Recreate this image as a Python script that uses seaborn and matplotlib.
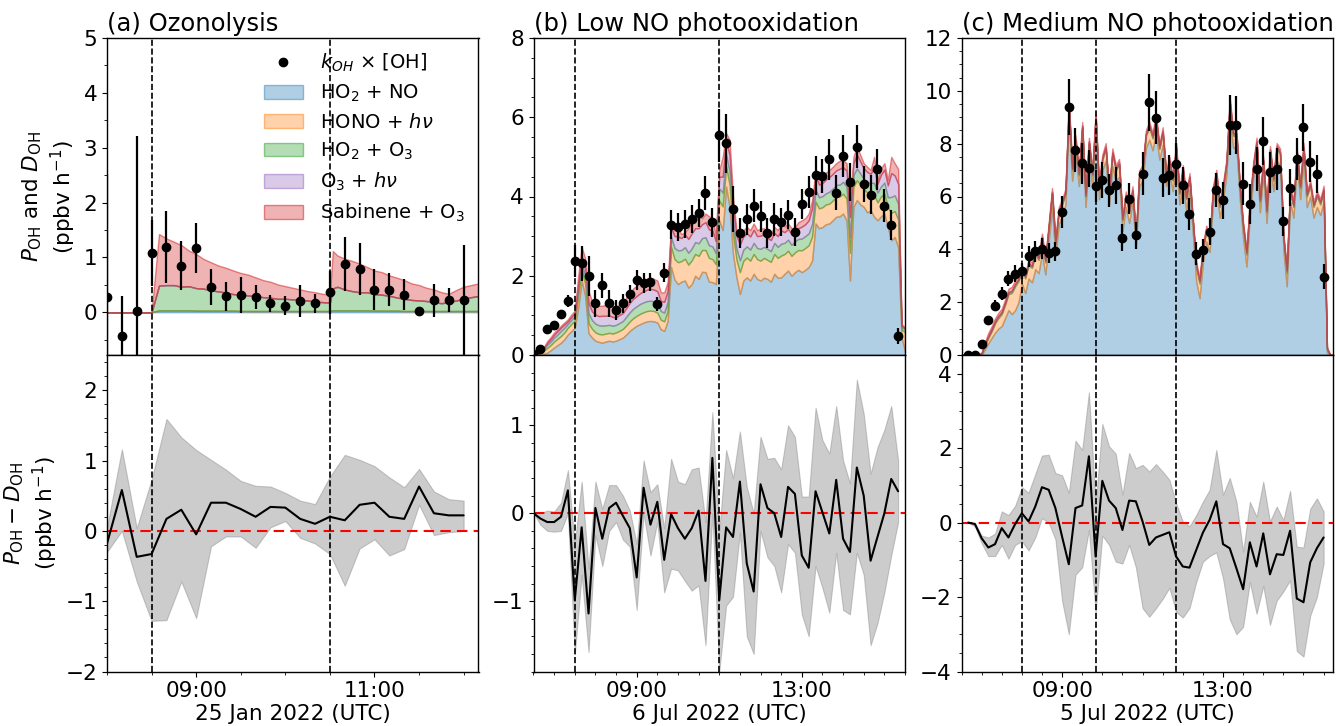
import numpy as np
import pandas as pd
import matplotlib
matplotlib.use("Agg")
import matplotlib.pyplot as plt
import matplotlib.dates as mdates
from matplotlib.colors import to_rgba
from matplotlib.lines import Line2D
from matplotlib.ticker import MultipleLocator
import seaborn as sns

# ------------------------------------------------------------------ data
layer_labels = ["HO$_2$ + NO", "HONO + $h\\nu$", "HO$_2$ + O$_3$", "O$_3$ + $h\\nu$", "Sabinene + O$_3$"]
layer_colors = ["tab:blue", "tab:orange", "tab:green", "tab:purple", "tab:red"]

# ---- (a) Ozonolysis, 25 Jan 2022
obs_a_start = "2022-01-25 08:00"
koh_a = [0.27, -0.44, 0.03, 1.08, 1.19, 0.85, 1.17, 0.46, 0.29, 0.32, 0.27, 0.16, 0.12,
         0.21, 0.16, 0.36, 0.88, 0.79, 0.41, 0.41, 0.32, 0.02, 0.22, 0.22, 0.22]
koh_a_err = [2.25, 0.74, 3.19, 0.6, 0.66, 0.44, 0.45, 0.33, 0.27, 0.33, 0.22, 0.15, 0.17,
             0.29, 0.18, 0.4, 0.49, 0.47, 0.37, 0.3, 0.28, 0.02, 0.3, 0.22, 1.0]
diff_a = [-0.18, 0.58, -0.37, -0.33, 0.17, 0.30, -0.05, 0.40, 0.40, 0.31, 0.20, 0.34, 0.33,
          0.17, 0.10, 0.20, 0.15, 0.37, 0.40, 0.20, 0.17, 0.63, 0.25, 0.22, 0.22]
diff_a_hi = [0.05, 1.16, 0.04, 0.73, 1.59, 1.33, 1.15, 1.01, 0.87, 0.71, 0.64, 0.63, 0.54,
             0.43, 0.38, 0.77, 1.08, 1.01, 0.92, 0.76, 0.62, 0.88, 0.56, 0.45, 0.43]
diff_a_lo = [-0.3, 0.0, -0.72, -1.28, -1.27, -0.72, -1.24, -0.22, -0.08, -0.08, -0.24, 0.05, 0.14,
             -0.1, -0.18, -0.33, -0.78, -0.25, -0.12, -0.35, -0.26, 0.37, -0.06, -0.02, 0.0]
model_a_times = ["08:00", "08:30", "08:35", "08:40", "08:45", "08:50", "08:55", "09:00", "09:05",
                 "09:10", "09:15", "09:20", "09:25", "09:30", "09:35", "09:40", "09:45", "09:50",
                 "09:55", "10:00", "10:05", "10:10", "10:15", "10:20", "10:25", "10:30", "10:32",
                 "10:35", "10:40", "10:45", "10:50", "10:55", "11:00", "11:05", "11:10", "11:15",
                 "11:20", "11:25", "11:30", "11:35", "11:40", "11:45", "11:50", "11:55", "12:00",
                 "12:05", "12:10"]
no_a = [0, 0, 0.03, 0.03, 0.03, 0.03, 0.03, 0.025, 0.025, 0.025, 0.025, 0.025, 0.025,
        0.02, 0.02, 0.02, 0.02, 0.02, 0.02, 0.02, 0.02, 0.02, 0.02, 0.02, 0.02, 0.02,
        0.03, 0.03, 0.03, 0.03, 0.03, 0.03, 0.025, 0.025, 0.025, 0.025,
        0.02, 0.02, 0.02, 0.02, 0.02, 0.02, 0.02, 0.02, 0.02, 0.02, 0.02]
hono_a = [0, 0, 0.003, 0.003, 0.003, 0.003, 0.003, 0.003, 0.003, 0.003, 0.003, 0.003, 0.003,
          0.003, 0.003, 0.003, 0.003, 0.003, 0.003, 0.003, 0.003, 0.003, 0.003, 0.003, 0.003,
          0.003, 0.003, 0.003, 0.003, 0.003, 0.003, 0.003, 0.003, 0.003, 0.003, 0.003, 0.003,
          0.003, 0.003, 0.003, 0.003, 0.003, 0.003, 0.003, 0.003, 0.003, 0.003]
ho2o3_a = [0, 0, 0.45, 0.46, 0.46, 0.43, 0.44, 0.41, 0.40, 0.37, 0.35, 0.33, 0.30, 0.30, 0.28,
           0.27, 0.25, 0.24, 0.22, 0.22, 0.21, 0.20, 0.19, 0.17, 0.16, 0.15, 0.40, 0.43, 0.38,
           0.35, 0.33, 0.33, 0.30, 0.29, 0.27, 0.24, 0.22, 0.20, 0.19, 0.18, 0.16, 0.14, 0.16,
           0.19, 0.22, 0.25, 0.27]
o3hv_a = [0, 0, 0.002, 0.002, 0.002, 0.002, 0.002, 0.002, 0.002, 0.002, 0.002, 0.002, 0.002,
          0.002, 0.002, 0.002, 0.002, 0.002, 0.002, 0.002, 0.002, 0.002, 0.002, 0.002, 0.002,
          0.002, 0.002, 0.002, 0.002, 0.002, 0.002, 0.002, 0.002, 0.002, 0.002, 0.002, 0.002,
          0.002, 0.002, 0.002, 0.002, 0.002, 0.002, 0.002, 0.002, 0.002, 0.002]
sab_a = [0, 0, 0.94, 0.85, 0.79, 0.76, 0.65, 0.62, 0.54, 0.51, 0.47, 0.45, 0.43, 0.39, 0.38,
         0.34, 0.31, 0.29, 0.26, 0.23, 0.21, 0.19, 0.17, 0.17, 0.15, 0.15, 0.68, 0.57, 0.56,
         0.55, 0.52, 0.46, 0.43, 0.41, 0.37, 0.36, 0.34, 0.30, 0.28, 0.24, 0.23, 0.20, 0.15,
         0.19, 0.22, 0.22, 0.23]

# ---- (b) Low NO photooxidation, 6 Jul 2022
obs_b_start = "2022-07-06 06:30"
koh_b = [0.02, 0.15, 0.66, 0.75, 1.03, 1.36, 2.38, 2.31, 1.99, 1.30,
         1.76, 1.31, 1.13, 1.30, 1.53, 1.89, 1.81, 1.85, 1.28, 2.08,
         3.29, 3.23, 3.31, 3.43, 3.58, 4.09, 3.35, 5.55, 5.34, 3.69,
         3.08, 3.42, 3.77, 3.50, 3.08, 3.42, 3.36, 3.54, 3.10, 3.80,
         4.11, 4.53, 4.52, 4.94, 4.09, 5.01, 4.36, 5.26, 4.31, 4.05,
         4.69, 3.77, 3.27, 0.47]
koh_b_err = [0.0, 0.03, 0.04, 0.05, 0.06, 0.15, 0.4, 0.45, 0.5, 0.34,
             0.32, 0.34, 0.25, 0.25, 0.23, 0.25, 0.25, 0.23, 0.18, 0.25,
             0.36, 0.35, 0.35, 0.36, 0.36, 0.42, 0.37, 0.67, 0.74, 0.58,
             0.39, 0.38, 0.42, 0.39, 0.38, 0.41, 0.36, 0.37, 0.35, 0.38,
             0.40, 0.50, 0.43, 0.52, 0.44, 0.53, 0.48, 0.55, 0.46, 0.48,
             0.52, 0.42, 0.38, 0.2]
diff_b = [0.0, -0.06, -0.1, -0.1, -0.04, 0.26, -0.99, -0.16, -1.14, 0.06,
          -0.29, 0.06, 0.12, -0.03, -0.17, -0.73, 0.29, -0.13, 0.13, -0.53,
          -0.01, -0.17, -0.29, -0.17, 0.03, -0.77, 0.63, -0.99, -0.16, -0.27,
          0.36, -0.57, -0.89, 0.33, 0.06, 0.0, -0.27, 0.3, 0.22, -0.48,
          -0.62, 0.25, 0.01, -0.23, 0.38, -0.29, -0.44, 0.52, 0.2, -0.54,
          -0.27, 0.0, 0.39, 0.25]
diff_b_hi = [0.0, 0.0, 0.03, 0.02, 0.12, 0.49, -0.35, 0.36, -0.63, 0.36,
             0.05, 0.32, 0.32, 0.2, 0.03, -0.35, 0.6, 0.24, 0.33, -0.17,
             0.62, 0.36, 0.33, 0.5, 0.52, -0.1, 1.15, -0.2, 0.72, 0.4,
             0.93, 0.3, 0.0, 0.87, 0.62, 0.63, 0.5, 1.0, 0.87, 0.19,
             0.19, 1.2, 0.83, 0.68, 1.22, 0.6, 0.34, 1.52, 1.13, 0.45,
             0.75, 0.95, 1.22, 0.6]
diff_b_lo = [0.0, -0.13, -0.2, -0.21, -0.2, 0.0, -1.6, -0.7, -1.58, -0.25,
             -0.6, -0.2, -0.1, -0.3, -0.38, -1.1, 0.0, -0.48, -0.1, -0.9,
             -0.63, -0.65, -0.77, -0.88, -0.82, -1.5, 0.0, -1.8, -1.05, -0.95,
             -0.22, -1.4, -1.6, -0.2, -0.5, -0.6, -0.9, -0.35, -0.45, -1.15,
             -1.4, -0.6, -0.85, -1.13, -0.45, -1.1, -1.15, -0.45, -0.7, -1.5,
             -1.25, -0.9, -0.48, -0.1]
model_b_start = "2022-07-06 06:30"
no_b = [0, 0, 0.0, 0.03, 0.06, 0.12, 0.19, 0.25, 0.31, 0.4,
        0.52, 0.6, 0.69, 1.2, 1.88, 1.5, 0.55, 0.44, 0.36, 0.33,
        0.31, 0.34, 0.36, 0.34, 0.36, 0.4, 0.44, 0.52, 0.61, 0.68,
        0.74, 0.78, 0.82, 0.85, 0.86, 0.85, 0.82, 0.65, 0.61, 0.86,
        2.22, 1.9, 1.79, 1.85, 1.88, 1.7, 1.79, 2.0, 1.92, 2.1,
        2.09, 1.85, 1.84, 1.79, 3.4, 3.15, 4.25, 3.74, 2.55, 1.96,
        1.54, 1.88, 1.96, 1.88, 2.05, 1.92, 1.88, 1.95, 1.92, 1.85,
        2.05, 1.95, 1.96, 2.05, 2.13, 2.0, 2.09, 2.15, 2.09, 2.15,
        2.22, 2.39, 3.32, 3.2, 3.23, 3.3, 3.32, 3.4, 3.49, 3.5,
        3.57, 3.4, 1.88, 3.74, 3.91, 3.8, 3.74, 3.6, 3.65, 3.49,
        3.4, 3.5, 3.57, 3.23, 2.89, 2.98, 2.72, 0.44, 0.1]
hono_b = [0, 0.01, 0.04, 0.08, 0.12, 0.13, 0.15, 0.16, 0.17, 0.17,
          0.17, 0.18, 0.18, 0.3, 0.3, 0.3, 0.25, 0.22, 0.21, 0.2,
          0.21, 0.2, 0.2, 0.2, 0.21, 0.21, 0.22, 0.23, 0.24, 0.25,
          0.25, 0.26, 0.26, 0.26, 0.26, 0.26, 0.25, 0.24, 0.24, 0.25,
          0.5, 0.52, 0.55, 0.52, 0.55, 0.58, 0.6, 0.55, 0.58, 0.55,
          0.56, 0.6, 0.58, 0.5, 0.5, 0.6, 0.5, 0.55, 0.5, 0.45,
          0.55, 0.5, 0.5, 0.5, 0.5, 0.5, 0.5, 0.5, 0.48, 0.5,
          0.5, 0.5, 0.55, 0.5, 0.5, 0.5, 0.5, 0.5, 0.55, 0.55,
          0.55, 0.6, 0.55, 0.5, 0.5, 0.5, 0.5, 0.5, 0.5, 0.5,
          0.5, 0.55, 0.7, 0.5, 0.5, 0.5, 0.45, 0.5, 0.45, 0.55,
          0.45, 0.5, 0.5, 0.5, 0.7, 0.65, 0.7, 0.2, 0.48]
ho2o3_b = [0, 0.005, 0.02, 0.04, 0.08, 0.09, 0.1, 0.11, 0.13, 0.12,
           0.1, 0.11, 0.11, 0.15, 0.15, 0.2, 0.25, 0.22, 0.22, 0.22,
           0.22, 0.21, 0.2, 0.2, 0.19, 0.2, 0.2, 0.22, 0.23, 0.24,
           0.24, 0.25, 0.25, 0.25, 0.25, 0.24, 0.24, 0.22, 0.22, 0.23,
           0.25, 0.28, 0.3, 0.28, 0.29, 0.3, 0.3, 0.3, 0.32, 0.3,
           0.32, 0.32, 0.32, 0.28, 0.3, 0.35, 0.3, 0.35, 0.3, 0.28,
           0.3, 0.28, 0.28, 0.28, 0.28, 0.28, 0.3, 0.28, 0.28, 0.27,
           0.28, 0.28, 0.3, 0.28, 0.28, 0.28, 0.28, 0.28, 0.3, 0.3,
           0.3, 0.32, 0.3, 0.28, 0.28, 0.28, 0.3, 0.3, 0.3, 0.3,
           0.3, 0.3, 0.4, 0.3, 0.3, 0.28, 0.25, 0.25, 0.25, 0.3,
           0.25, 0.25, 0.28, 0.25, 0.4, 0.4, 0.4, 0.07, 0.07]
o3hv_b = [0, 0.003, 0.01, 0.03, 0.05, 0.06, 0.07, 0.08, 0.08, 0.08,
          0.06, 0.07, 0.07, 0.15, 0.15, 0.2, 0.25, 0.22, 0.23, 0.23,
          0.25, 0.24, 0.24, 0.22, 0.19, 0.2, 0.2, 0.22, 0.24, 0.25,
          0.26, 0.27, 0.28, 0.29, 0.3, 0.3, 0.3, 0.25, 0.27, 0.27,
          0.25, 0.3, 0.35, 0.3, 0.32, 0.35, 0.38, 0.35, 0.38, 0.35,
          0.38, 0.4, 0.4, 0.3, 0.3, 0.4, 0.35, 0.4, 0.4, 0.32,
          0.4, 0.33, 0.33, 0.33, 0.33, 0.3, 0.33, 0.32, 0.28, 0.28,
          0.25, 0.27, 0.33, 0.27, 0.27, 0.27, 0.24, 0.27, 0.3, 0.3,
          0.33, 0.4, 0.35, 0.32, 0.33, 0.35, 0.37, 0.37, 0.37, 0.4,
          0.37, 0.4, 0.5, 0.3, 0.35, 0.3, 0.27, 0.27, 0.22, 0.4,
          0.22, 0.3, 0.33, 0.3, 0.6, 0.5, 0.5, 0.04, 0.02]
sab_b = [0, 0.002, 0.01, 0.02, 0.04, 0.05, 0.06, 0.05, 0.05, 0.05,
         0.05, 0.06, 0.07, 0.2, 0.24, 0.25, 0.3, 0.27, 0.27, 0.27,
         0.25, 0.28, 0.29, 0.28, 0.27, 0.27, 0.27, 0.26, 0.26, 0.26,
         0.26, 0.26, 0.27, 0.28, 0.28, 0.27, 0.27, 0.22, 0.24, 0.23,
         0.1, 0.15, 0.2, 0.1, 0.06, 0.27, 0.33, 0.15, 0.33, 0.15,
         0.22, 0.33, 0.31, 0.15, 0.17, 0.5, 0.2, 0.39, 0.24, 0.14,
         0.19, 0.16, 0.16, 0.16, 0.16, 0.15, 0.18, 0.15, 0.14, 0.15,
         0.15, 0.15, 0.18, 0.15, 0.14, 0.15, 0.12, 0.15, 0.16, 0.15,
         0.17, 0.2, 0.15, 0.15, 0.16, 0.17, 0.18, 0.18, 0.18, 0.2,
         0.18, 0.19, 0.26, 0.16, 0.2, 0.17, 0.13, 0.13, 0.1, 0.26,
         0.1, 0.15, 0.16, 0.14, 0.41, 0.31, 0.38, 0.03, 0.02]

# ---- (c) Medium NO photooxidation, 5 Jul 2022
obs_c_start = "2022-07-05 06:40"
koh_c = [0.0, 0.0, 0.42, 1.33, 1.87, 2.32, 2.89, 3.08, 3.18, 3.73,
         3.92, 4.03, 3.86, 3.92, 5.42, 9.38, 7.76, 7.25, 7.06, 6.41,
         6.62, 6.24, 6.43, 4.44, 5.92, 4.53, 6.87, 9.57, 8.99, 6.71,
         6.81, 7.22, 6.43, 5.33, 3.84, 3.96, 4.66, 6.24, 5.86, 8.71,
         8.71, 6.49, 5.73, 7.04, 8.10, 6.91, 7.04, 5.06, 6.34, 7.41,
         8.62, 7.32, 6.85, 2.97]
koh_c_err = [0.0, 0.0, 0.05, 0.08, 0.2, 0.25, 0.28, 0.33, 0.3, 0.39,
             0.41, 0.4, 0.38, 0.36, 0.6, 1.06, 0.84, 0.79, 0.71, 0.6,
             0.68, 0.63, 0.7, 0.51, 0.59, 0.51, 0.82, 1.08, 1.0, 0.74,
             0.76, 0.8, 0.7, 0.6, 0.44, 0.44, 0.51, 0.65, 0.7, 1.14,
             1.09, 0.82, 0.76, 0.85, 0.91, 0.76, 0.78, 0.56, 0.7, 0.8,
             0.9, 0.77, 0.73, 0.47]
diff_c = [0.0, -0.04, -0.42, -0.67, -0.58, -0.15, -0.4, -0.04, 0.25, 0.03,
          0.43, 0.95, 0.88, 0.39, -0.38, -1.12, 0.39, 0.46, 1.78, -0.91,
          1.12, 0.59, 0.39, -0.2, 0.59, 0.57, 0.03, -0.6, -0.4, -0.33,
          -0.26, -0.91, -1.18, -1.21, -0.74, -0.27, 0.07, 0.57, -0.58, -0.69,
          -1.23, -1.79, -0.53, -1.18, -0.29, -1.39, -0.85, -0.87, -0.22, -2.04,
          -2.14, -1.07, -0.69, -0.4]
diff_c_hi = [0.0, 0.0, -0.35, -0.4, -0.3, 0.3, 0.2, 0.45, 0.95, 0.8,
             1.3, 1.8, 1.82, 1.33, 1.27, 0.8, 2.2, 1.95, 3.5, 0.5,
             2.65, 2.05, 1.85, 0.75, 1.87, 1.46, 1.55, 1.37, 1.57, 1.37,
             1.15, 0.52, 0.03, -0.1, 0.2, 0.56, 0.88, 1.95, 0.75, 1.2,
             0.56, -0.78, 0.56, 0.16, 1.1, 0.03, 0.43, 0.07, 0.85, -0.65,
             -0.67, 0.37, 0.65, 0.3]
diff_c_lo = [0.0, -0.1, -0.55, -0.9, -0.9, -0.6, -0.97, -0.6, -0.5, -0.75,
             -0.4, 0.12, 0.0, -0.45, -2.1, -3.0, -1.4, -1.2, -0.2, -2.4,
             -0.35, -0.6, -1.05, -1.1, -0.6, -1.2, -2.3, -2.53, -2.3, -2.05,
             -1.75, -2.4, -2.55, -2.3, -1.6, -1.05, -0.9, -0.8, -1.5, -2.6,
             -3.0, -2.8, -1.6, -2.45, -1.7, -2.75, -2.1, -1.85, -1.55, -3.45,
             -3.6, -2.5, -2.0, -1.1]
model_c_start = "2022-07-05 06:30"
no_c = [0, 0, 0, 0, 0, 0, 0.0, 0.22, 0.45, 0.65,
        0.85, 1.0, 1.1, 1.4, 1.7, 1.55, 1.7, 2.0, 2.7, 2.35,
        2.9, 2.75, 3.25, 3.1, 3.85, 3.05, 4.3, 5.6, 3.75, 4.95,
        5.25, 5.7, 8.95, 6.6, 7.65, 6.4, 8.15, 5.6, 7.55, 6.4,
        8.55, 5.9, 7.0, 7.35, 5.7, 7.15, 6.6, 6.75, 4.7, 5.6,
        5.0, 5.8, 4.05, 6.4, 6.6, 7.85, 8.15, 7.75, 8.45, 7.4,
        7.95, 6.4, 6.9, 6.2, 7.35, 5.7, 6.6, 5.5, 6.3, 4.6,
        2.8, 2.15, 3.55, 4.3, 3.9, 5.8, 6.4, 5.2, 5.9, 6.8,
        9.05, 7.85, 7.85, 5.9, 4.4, 3.35, 5.3, 6.7, 7.55, 5.4,
        6.9, 5.0, 7.3, 6.2, 7.35, 7.2, 4.0, 2.6, 5.8, 5.2,
        7.2, 5.9, 7.35, 5.6, 6.0, 5.2, 5.6, 5.3, 5.8, 0.1,
        0, 0]
hono_c = [0, 0, 0, 0, 0, 0, 0.05, 0.15, 0.2, 0.25,
          0.35, 0.4, 0.45, 0.5, 0.6, 0.8, 0.9, 0.8, 0.5, 0.55,
          0.5, 0.55, 0.55, 0.5, 0.55, 0.45, 0.5, 0.5, 0.45, 0.45,
          0.45, 0.4, 0.45, 0.4, 0.45, 0.4, 0.45, 0.4, 0.45, 0.4,
          0.45, 0.4, 0.4, 0.45, 0.4, 0.45, 0.4, 0.45, 0.4, 0.4,
          0.4, 0.4, 0.35, 0.4, 0.4, 0.45, 0.45, 0.45, 0.45, 0.4,
          0.45, 0.4, 0.4, 0.4, 0.45, 0.4, 0.4, 0.4, 0.4, 0.4,
          0.5, 0.55, 0.45, 0.4, 0.4, 0.4, 0.4, 0.4, 0.4, 0.4,
          0.45, 0.45, 0.45, 0.4, 0.4, 0.45, 0.4, 0.4, 0.45, 0.4,
          0.4, 0.4, 0.4, 0.4, 0.45, 0.4, 0.4, 0.5, 0.4, 0.4,
          0.4, 0.4, 0.45, 0.4, 0.4, 0.4, 0.4, 0.4, 0.4, 0.1,
          0, 0]
ho2o3_c = [0, 0, 0, 0, 0, 0, 0.01, 0.03, 0.04, 0.04,
           0.04, 0.05, 0.05, 0.05, 0.05, 0.06, 0.06, 0.05, 0.04, 0.04,
           0.04, 0.04, 0.04, 0.04, 0.04, 0.04, 0.04, 0.04, 0.04, 0.04,
           0.04, 0.03, 0.04, 0.03, 0.04, 0.03, 0.04, 0.03, 0.04, 0.03,
           0.04, 0.03, 0.03, 0.04, 0.03, 0.04, 0.03, 0.04, 0.03, 0.03,
           0.03, 0.03, 0.03, 0.03, 0.03, 0.04, 0.04, 0.04, 0.04, 0.03,
           0.04, 0.03, 0.03, 0.03, 0.04, 0.03, 0.03, 0.03, 0.03, 0.04,
           0.05, 0.06, 0.05, 0.04, 0.04, 0.04, 0.04, 0.04, 0.04, 0.04,
           0.05, 0.05, 0.05, 0.04, 0.04, 0.05, 0.04, 0.04, 0.05, 0.04,
           0.04, 0.04, 0.04, 0.04, 0.05, 0.04, 0.05, 0.06, 0.04, 0.04,
           0.05, 0.05, 0.05, 0.05, 0.05, 0.05, 0.05, 0.05, 0.05, 0.03,
           0, 0]
o3hv_c = [0, 0, 0, 0, 0, 0, 0.01, 0.02, 0.03, 0.03,
          0.03, 0.03, 0.03, 0.03, 0.03, 0.03, 0.03, 0.03, 0.04, 0.04,
          0.04, 0.04, 0.04, 0.04, 0.04, 0.04, 0.04, 0.05, 0.04, 0.04,
          0.04, 0.05, 0.06, 0.05, 0.05, 0.04, 0.05, 0.04, 0.05, 0.04,
          0.05, 0.04, 0.04, 0.05, 0.04, 0.05, 0.04, 0.05, 0.04, 0.04,
          0.04, 0.04, 0.04, 0.04, 0.04, 0.05, 0.05, 0.05, 0.05, 0.04,
          0.05, 0.04, 0.04, 0.04, 0.05, 0.04, 0.04, 0.04, 0.04, 0.04,
          0.05, 0.05, 0.05, 0.04, 0.04, 0.05, 0.05, 0.04, 0.05, 0.05,
          0.06, 0.05, 0.05, 0.04, 0.04, 0.04, 0.04, 0.05, 0.05, 0.04,
          0.05, 0.04, 0.05, 0.04, 0.05, 0.05, 0.04, 0.05, 0.05, 0.04,
          0.05, 0.04, 0.05, 0.04, 0.04, 0.04, 0.04, 0.04, 0.04, 0.02,
          0, 0]
sab_c = [0, 0, 0, 0, 0, 0, 0.03, 0.08, 0.12, 0.12,
         0.12, 0.12, 0.12, 0.13, 0.13, 0.14, 0.14, 0.13, 0.12, 0.12,
         0.12, 0.12, 0.12, 0.12, 0.12, 0.12, 0.12, 0.13, 0.12, 0.12,
         0.12, 0.12, 0.14, 0.12, 0.13, 0.12, 0.13, 0.12, 0.13, 0.12,
         0.14, 0.12, 0.12, 0.13, 0.12, 0.13, 0.12, 0.13, 0.11, 0.12,
         0.12, 0.12, 0.11, 0.12, 0.12, 0.13, 0.13, 0.13, 0.14, 0.12,
         0.13, 0.12, 0.12, 0.12, 0.13, 0.12, 0.12, 0.12, 0.12, 0.12,
         0.12, 0.12, 0.12, 0.12, 0.12, 0.12, 0.12, 0.12, 0.12, 0.12,
         0.14, 0.13, 0.13, 0.12, 0.12, 0.12, 0.12, 0.12, 0.13, 0.12,
         0.12, 0.12, 0.12, 0.12, 0.12, 0.12, 0.12, 0.12, 0.12, 0.12,
         0.12, 0.12, 0.13, 0.12, 0.12, 0.12, 0.12, 0.12, 0.12, 0.05,
         0, 0]

# ------------------------------------------------------------------ style
sns.set_style("ticks")
plt.rcParams.update({
    "font.family": ["DejaVu Sans"],
    "font.size": 15.5,
    "axes.titlesize": 17.5,
    "axes.labelsize": 15.5,
    "xtick.labelsize": 15.5,
    "ytick.labelsize": 15.5,
    "legend.fontsize": 14,
    "axes.edgecolor": "black",
    "axes.labelcolor": "black",
    "text.color": "black",
    "xtick.color": "black",
    "ytick.color": "black",
    "axes.linewidth": 1.0,
    "xtick.major.size": 3.5, "ytick.major.size": 3.5,
    "xtick.minor.size": 2.0, "ytick.minor.size": 2.0,
    "xtick.major.width": 0.8, "ytick.major.width": 0.8,
    "xtick.minor.width": 0.6, "ytick.minor.width": 0.6,
})

panels = [
    dict(title="(a) Ozonolysis", xlabel="25 Jan 2022 (UTC)",
         obs_t=pd.date_range(obs_a_start, periods=len(koh_a), freq="10min"),
         koh=koh_a, err=koh_a_err, diff=diff_a, hi=diff_a_hi, lo=diff_a_lo,
         mod_t=pd.to_datetime(["2022-01-25 " + s for s in model_a_times]),
         layers=[no_a, hono_a, ho2o3_a, o3hv_a, sab_a],
         xlim=("2022-01-25 08:00", "2022-01-25 12:10"),
         vlines=["2022-01-25 08:30", "2022-01-25 10:30"],
         hours=[9, 11], ytop=(-0.78, 5), ytop_major=1, ytop_minor=0.5,
         ybot=(-2, 2.5), ybot_major=1, ybot_minor=0.2),
    dict(title="(b) Low NO photooxidation", xlabel="6 Jul 2022 (UTC)",
         obs_t=pd.date_range(obs_b_start, periods=len(koh_b), freq="10min"),
         koh=koh_b, err=koh_b_err, diff=diff_b, hi=diff_b_hi, lo=diff_b_lo,
         mod_t=pd.date_range(model_b_start, periods=len(no_b), freq="5min"),
         layers=[no_b, hono_b, ho2o3_b, o3hv_b, sab_b],
         xlim=("2022-07-06 06:30", "2022-07-06 15:30"),
         vlines=["2022-07-06 07:30", "2022-07-06 11:00"],
         hours=[9, 13], ytop=(0, 8), ytop_major=2, ytop_minor=0.5,
         ybot=(-1.8, 1.8), ybot_major=1, ybot_minor=0.2),
    dict(title="(c) Medium NO photooxidation", xlabel="5 Jul 2022 (UTC)",
         obs_t=pd.date_range(obs_c_start, periods=len(koh_c), freq="10min"),
         koh=koh_c, err=koh_c_err, diff=diff_c, hi=diff_c_hi, lo=diff_c_lo,
         mod_t=pd.date_range(model_c_start, periods=len(no_c), freq="5min"),
         layers=[no_c, hono_c, ho2o3_c, o3hv_c, sab_c],
         xlim=("2022-07-05 06:30", "2022-07-05 15:44"),
         vlines=["2022-07-05 08:00", "2022-07-05 09:50", "2022-07-05 11:50"],
         hours=[9, 13], ytop=(0, 12), ytop_major=2, ytop_minor=0.5,
         ybot=(-4, 4.5), ybot_major=2, ybot_minor=0.5),
]

fig = plt.figure(figsize=(13.36, 7.26), dpi=100)
W, H = 1336.0, 726.0
lefts = [107 / W, 533.5 / W, 961.5 / W]
width = 371.5 / W
top_y0, top_h = 1 - 355 / H, (355 - 38) / H
bot_y0, bot_h = 1 - 671.5 / H, (671.5 - 355) / H
edge_alpha = [0.45, 0.5, 0.5, 0.5, 0.55]

for i, p in enumerate(panels):
    ax1 = fig.add_axes([lefts[i], top_y0, width, top_h])
    ax2 = fig.add_axes([lefts[i], bot_y0, width, bot_h], sharex=ax1)
    xl = (pd.Timestamp(p["xlim"][0]), pd.Timestamp(p["xlim"][1]))

    # ---- top: stacked production terms + measured loss
    polys = ax1.stackplot(p["mod_t"], *[np.asarray(l) for l in p["layers"]],
                          colors=layer_colors, labels=layer_labels, zorder=1)
    for poly, c, ea in zip(polys, layer_colors, edge_alpha):
        poly.set_alpha(None)
        poly.set_facecolor(to_rgba(c, 0.35))
        poly.set_edgecolor(to_rgba(c, ea))
        poly.set_linewidth(1.0)
    for v in p["vlines"]:
        ax1.axvline(pd.Timestamp(v), color="black", ls="--", lw=1.2, zorder=2)
        ax2.axvline(pd.Timestamp(v), color="black", ls="--", lw=1.2, zorder=3)
    ax1.errorbar(p["obs_t"], p["koh"], yerr=p["err"], fmt="o", color="black",
                 ms=6, elinewidth=1.6, capsize=0, zorder=4)
    ax1.set_ylim(*p["ytop"])
    ax1.yaxis.set_major_locator(MultipleLocator(p["ytop_major"]))
    ax1.yaxis.set_minor_locator(MultipleLocator(p["ytop_minor"]))
    ax1.tick_params(axis="x", which="both", bottom=False, labelbottom=False)
    ax1.set_title(p["title"], loc="left", pad=5)

    # ---- bottom: P - D with uncertainty
    ax2.fill_between(p["obs_t"], p["lo"], p["hi"], color="gray", alpha=0.4,
                     linewidth=0.8, zorder=1)
    ax2.axhline(0, color="red", ls=(0, (5, 3)), lw=1.5, zorder=2)
    dfp = pd.DataFrame({"t": p["obs_t"], "d": p["diff"]})
    sns.lineplot(data=dfp, x="t", y="d", ax=ax2, color="black", lw=1.5, zorder=4)
    ax2.set_ylim(*p["ybot"])
    ax2.yaxis.set_major_locator(MultipleLocator(p["ybot_major"]))
    ax2.yaxis.set_minor_locator(MultipleLocator(p["ybot_minor"]))
    ax2.set_xlim(*xl)
    ax2.xaxis.set_major_locator(mdates.HourLocator(byhour=p["hours"]))
    ax2.xaxis.set_minor_locator(mdates.MinuteLocator(byminute=[0, 30]))
    ax2.xaxis.set_major_formatter(mdates.DateFormatter("%H:%M"))
    ax2.set_xlabel(p["xlabel"], labelpad=2)
    ax2.set_ylabel("")

    for a in (ax1, ax2):
        for s in a.spines.values():
            s.set_visible(True)
            s.set_color("black")

    if i == 0:
        ax1.set_ylabel("$P_{\\mathrm{OH}}$ and $D_{\\mathrm{OH}}$\n(ppbv h$^{-1}$)")
        ax2.set_ylabel("$P_{\\mathrm{OH}} - D_{\\mathrm{OH}}$\n(ppbv h$^{-1}$)")
        dot = Line2D([], [], marker="o", color="black", ls="", ms=6)
        ax1.legend([dot] + list(polys), ["$k_{OH}$ × [OH]"] + layer_labels,
                   loc="upper right", frameon=False, handlelength=2.0,
                   handletextpad=0.9, labelspacing=0.45, borderaxespad=0.3)

fig.savefig("out.png", dpi=100)
